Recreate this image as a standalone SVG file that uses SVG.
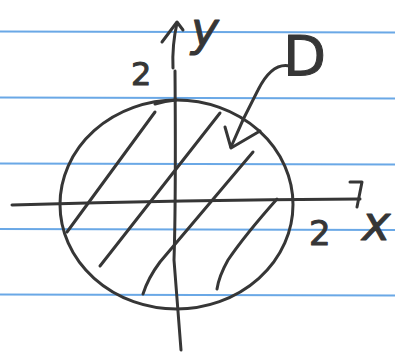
<svg xmlns="http://www.w3.org/2000/svg" width="395" height="354" viewBox="0 0 395 354">
<style>
.rule{stroke:#6aa8e6;stroke-width:2.2;fill:none}
.ink{stroke:#363636;stroke-width:3;fill:none;stroke-linecap:round;stroke-linejoin:round}
.lbl{font-family:"DejaVu Sans","Liberation Sans",sans-serif;fill:#363636;stroke:#363636;stroke-width:1;stroke-linejoin:round}
</style>
<rect width="395" height="354" fill="#ffffff"/>
<g id="paper">
<line class="rule" x1="0" y1="31.5" x2="395" y2="32.5"/>
<line class="rule" x1="0" y1="97.5" x2="395" y2="98.5"/>
<line class="rule" x1="0" y1="163.5" x2="395" y2="164.5"/>
<line class="rule" x1="0" y1="229" x2="395" y2="230"/>
<line class="rule" x1="0" y1="294.5" x2="395" y2="295.5"/>
</g>
<g id="region-D">
<ellipse class="ink" cx="176.5" cy="204.5" rx="116.5" ry="104.5"/>
<path class="ink" d="M155,104 Q165,101 176,100"/>
</g>
<g id="hatching">
<path class="ink" d="M155,112 L67,232"/>
<path class="ink" d="M220,113 L100,266"/>
<path class="ink" d="M253,152 Q200,215 160,262 Q148,278 143,294"/>
<path class="ink" d="M277,199 Q245,235 228,260 Q219,276 217,289"/>
</g>
<g id="x-axis">
<path class="ink" d="M12,205 Q180,200 360,199"/>
<path class="ink" d="M350,182 L362,182 L357,207"/>
<text class="lbl" x="309" y="245" font-size="34">2</text>
<text class="lbl" x="362" y="240" font-size="48" font-style="italic">x</text>
</g>
<g id="y-axis">
<path class="ink" d="M173,68 Q172,45 177,23"/>
<path class="ink" d="M162,42 L177,22 L183,30"/>
<path class="ink" d="M175,71 Q176,200 174,260 Q177,300 181,350"/>
<text class="lbl" x="131" y="85" font-size="32">2</text>
<text class="lbl" x="191" y="45" font-size="47" font-style="italic">y</text>
</g>
<g id="label-D">
<text class="lbl" x="283" y="75" font-size="56">D</text>
</g>
<g id="connectors">
<path class="ink" d="M290,66 Q272,62 258,90 Q243,118 231,147"/>
<path class="ink" d="M225,127 L231,148 L260,131"/>
</g>
</svg>
